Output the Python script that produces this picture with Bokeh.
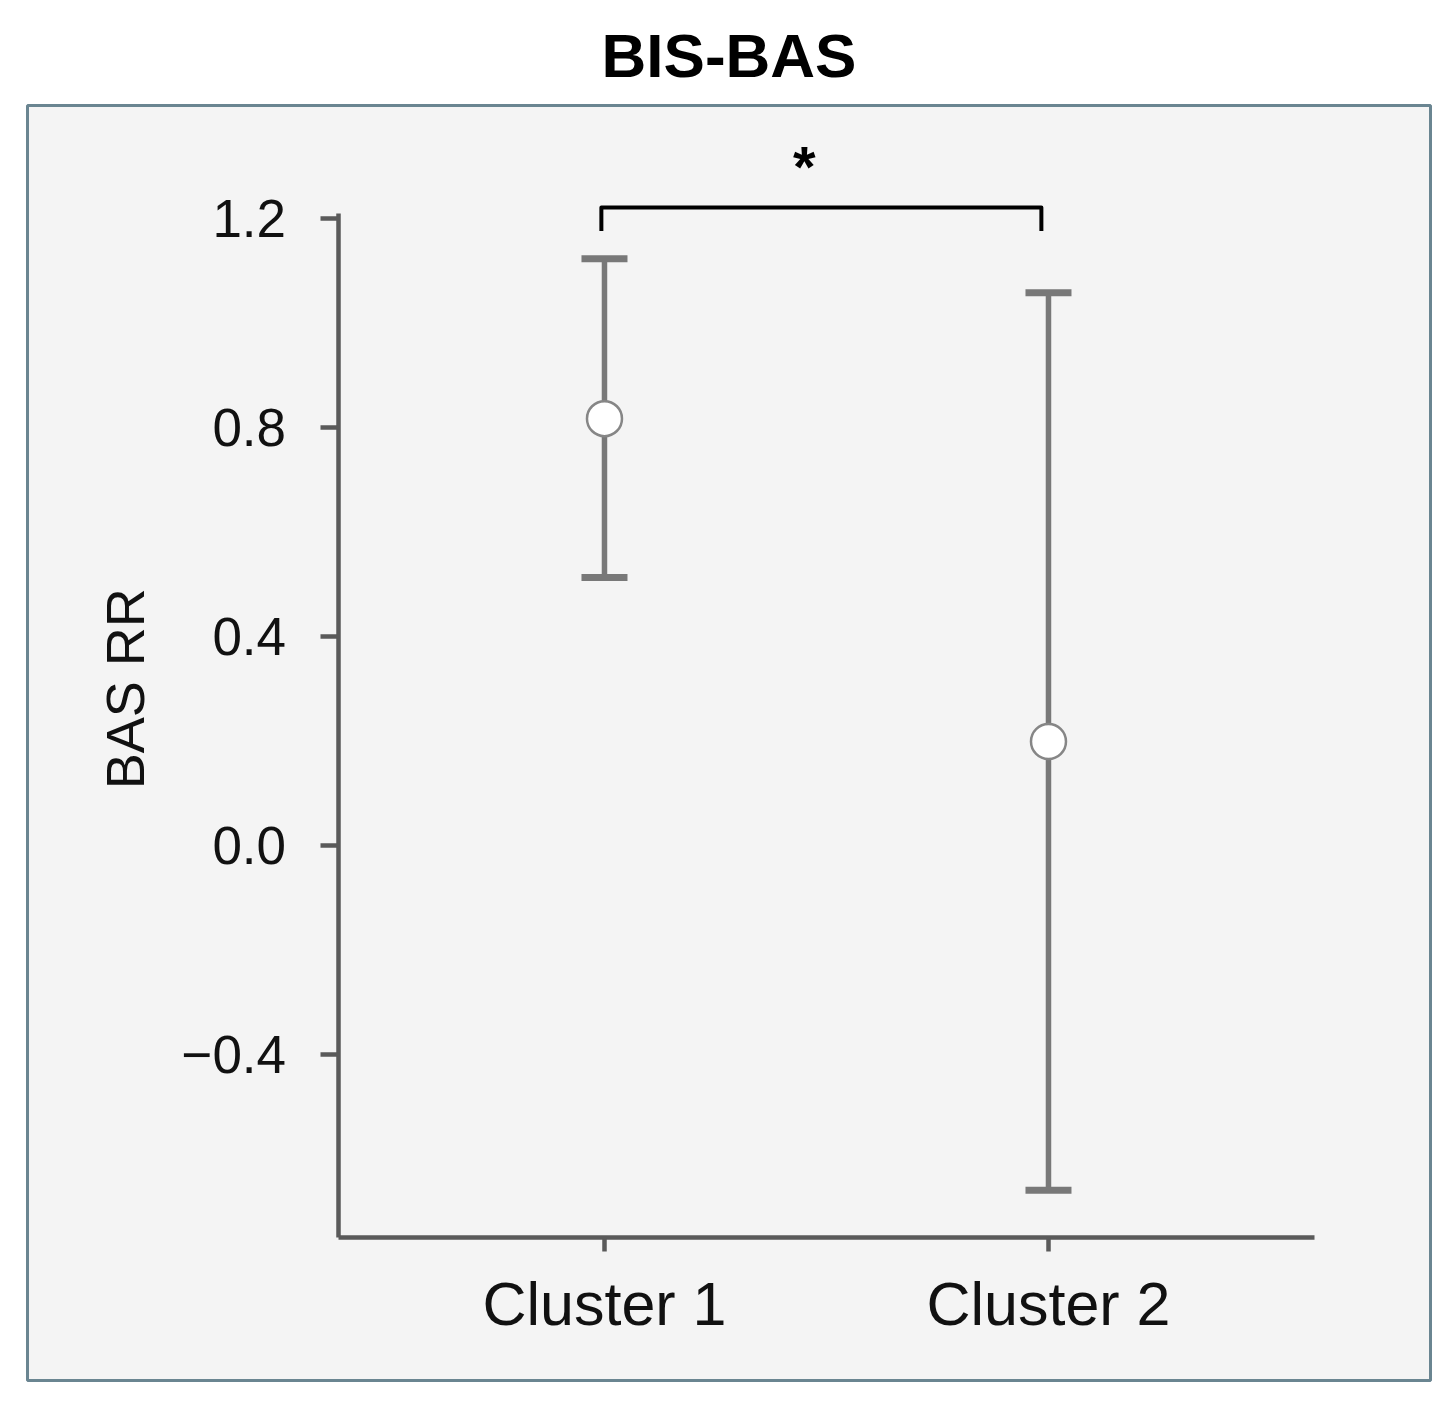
import math
from bokeh.plotting import figure
from bokeh.models import Range1d, FixedTicker, LinearAxis, Label
from bokeh.core.properties import value
from bokeh.embed import file_html
from bokeh.resources import INLINE

# ---- data ----
title_text = "BIS-BAS"
categories = ["Cluster 1", "Cluster 2"]
means = [0.817, 0.199]
upper = [1.123, 1.058]
lower = [0.513, -0.660]
y_ticks = [-0.4, 0.0, 0.4, 0.8, 1.2]
y_tick_labels = ["\u22120.4", "0.0", "0.4", "0.8", "1.2"]
y_label = "BAS RR"
sig_label = "*"

xpos = [i + 1 for i in range(len(categories))]

FONT = "Liberation Sans"
AXIS_COLOR = "#5a5a5a"
BAR_COLOR = "#787878"

p = figure(width=1440, height=1392, output_backend="svg", toolbar_location=None,
           x_range=Range1d(-0.2995, 2.8604), y_range=Range1d(-1.0239, 1.4163),
           x_axis_type=None, y_axis_type=None,
           min_border_left=27, min_border_right=10, min_border_top=105, min_border_bottom=12)

p.title.text = title_text
p.title.align = "center"
p.title.text_font = FONT
p.title.text_font_size = "62px"
p.title.text_font_style = "bold"
p.title.text_color = "#000000"
p.title.text_line_height = 0.75
p.title.standoff = 32

p.background_fill_color = "#f4f4f4"
p.border_fill_color = "#ffffff"
p.outline_line_color = "#6a8591"
p.outline_line_width = 3
p.grid.visible = False

# y axis inside the frame
yax = LinearAxis(fixed_location=0.4, bounds=(-0.75, 1.21))
yax.ticker = FixedTicker(ticks=y_ticks)
yax.major_label_overrides = {t: l for t, l in zip(y_ticks, y_tick_labels)}
yax.major_label_text_font = FONT
yax.major_label_text_font_size = "53px"
yax.major_label_text_color = "#111111"
yax.major_label_standoff = 34
yax.axis_line_color = AXIS_COLOR
yax.axis_line_width = 4.5
yax.major_tick_line_color = AXIS_COLOR
yax.major_tick_line_width = 4.5
yax.major_tick_out = 18
yax.major_tick_in = 0
yax.minor_tick_line_color = None
p.add_layout(yax, "left")

# y axis title
p.add_layout(Label(x=-0.079, y=0.30, text=y_label, angle=math.pi / 2,
                   text_align="center", text_baseline="middle",
                   text_font=FONT, text_font_size="54px", text_color="#111111"))

# x axis inside the frame
xax = LinearAxis(fixed_location=-0.75, bounds=(0.4, 2.6))
xax.ticker = FixedTicker(ticks=xpos)
xax.major_label_overrides = {x: c for x, c in zip(xpos, categories)}
xax.major_label_text_font = FONT
xax.major_label_text_font_size = "61px"
xax.major_label_text_color = "#111111"
xax.major_label_standoff = 19
xax.axis_line_color = AXIS_COLOR
xax.axis_line_width = 4.5
xax.major_tick_line_color = AXIS_COLOR
xax.major_tick_line_width = 4.5
xax.major_tick_out = 14
xax.major_tick_in = 0
xax.minor_tick_line_color = None
p.add_layout(xax, "below")

# error bars
p.segment(x0=xpos, y0=lower, x1=xpos, y1=upper, line_color=BAR_COLOR, line_width=5.5)
p.scatter(x=xpos, y=upper, marker="dash", size=46, line_color=BAR_COLOR, line_width=7)
p.scatter(x=xpos, y=lower, marker="dash", size=46, line_color=BAR_COLOR, line_width=7)
p.scatter(x=xpos, y=means, marker="circle", size=35, fill_color="#ffffff",
          line_color="#868686", line_width=2.5)

# significance bracket
bx1 = xpos[0] - 0.007
bx2 = xpos[1] - 0.016
by = 1.221
drop = 0.045
p.line(x=[bx1, bx1, bx2, bx2], y=[by - drop, by, by, by - drop],
       line_color="#000000", line_width=4, line_join="round")
p.text(x=[1.45], y=[1.299], text=[sig_label], text_align="center",
       text_baseline="alphabetic", text_font=value(FONT), text_font_size="58px",
       text_font_style="bold", text_color="#000000")

open("out.html", "w").write(file_html(p, INLINE))
